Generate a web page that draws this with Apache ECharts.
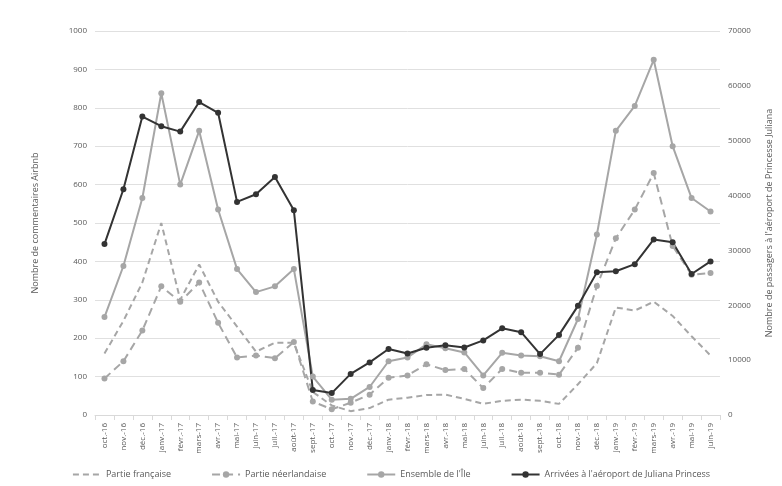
<!DOCTYPE html><html><head><meta charset="utf-8"><script src="https://cdn.jsdelivr.net/npm/echarts@6/dist/echarts.min.js"></script></head><body style="margin:0;background:#fff"><div id="c" style="width:782px;height:486px"></div><script>
const categories=['oct.-16','nov.-16','déc.-16','janv.-17','févr.-17','mars-17','avr.-17','mai-17','juin-17','juil.-17','août-17','sept.-17','oct.-17','nov.-17','déc.-17','janv.-18','févr.-18','mars-18','avr.-18','mai-18','juin-18','juil.-18','août-18','sept.-18','oct.-18','nov.-18','déc.-18','janv.-19','févr.-19','mars-19','avr.-19','mai-19','juin-19'];
const francaise=[160,245,345,500,300,392,295,230,165,188,188,60,25,10,18,40,45,52,53,42,29,37,40,37,29,80,135,280,272,295,258,205,155];
const neerlandaise=[95,140,220,335,295,345,240,150,155,148,190,35,15,32,53,97,103,132,117,120,70,120,110,110,105,175,336,460,535,630,440,365,370];
const ensemble=[255,388,565,838,600,740,535,380,320,335,380,100,40,42,73,140,150,184,174,163,103,162,155,153,140,250,470,740,805,925,700,565,530];
const arrivees=[31150,41160,54400,52640,51660,57050,55090,38850,40250,43400,37310,4550,3990,7490,9590,12040,11200,12250,12700,12300,13600,15800,15100,11100,14600,19900,26000,26200,27500,32000,31500,25700,28000];
const tc='#595959',f='Open Sans';
const ch=echarts.init(document.getElementById('c'));
ch.setOption({
 textStyle:{fontFamily:f},
 grid:{left:95,right:60,top:31,bottom:71},
 legend:{bottom:2,itemGap:40,itemWidth:28,itemHeight:8,textStyle:{color:tc,fontSize:9,fontFamily:f},
  data:[{name:'Partie française',itemStyle:{opacity:0}},'Partie néerlandaise',"Ensemble de l'Île","Arrivées à l'aéroport de Juliana Princess"]},
 xAxis:{type:'category',data:categories,boundaryGap:true,axisLine:{lineStyle:{color:'#d9d9d9'}},axisTick:{show:true,lineStyle:{color:'#d9d9d9'}},
  axisLabel:{rotate:90,color:tc,fontSize:8,interval:0}},
 yAxis:[{type:'value',min:0,max:1000,interval:100,name:'Nombre de commentaires Airbnb',nameLocation:'middle',nameGap:55,nameTextStyle:{color:tc,fontSize:9},
  axisLabel:{color:tc,fontSize:8,formatter:v=>String(v)},splitLine:{lineStyle:{color:'#e0e0e0'}},axisLine:{show:false}},
  {type:'value',min:0,max:70000,interval:10000,name:"Nombre de passagers à l'aéroport de Princesse Juliana",nameLocation:'middle',nameGap:45,nameRotate:90,nameTextStyle:{color:tc,fontSize:9},
  axisLabel:{color:tc,fontSize:8,formatter:v=>String(v)},splitLine:{show:false},axisLine:{show:false}}],
 series:[
  {name:'Partie française',type:'line',data:francaise,showSymbol:false,symbol:'none',lineStyle:{color:'#a6a6a6',width:2,type:[6,4]},itemStyle:{color:'#a6a6a6'}},
  {name:'Partie néerlandaise',type:'line',data:neerlandaise,symbol:'circle',symbolSize:6,lineStyle:{color:'#a6a6a6',width:2,type:[8,5]},itemStyle:{color:'#a6a6a6'}},
  {name:"Ensemble de l'Île",type:'line',data:ensemble,symbol:'circle',symbolSize:6,lineStyle:{color:'#a6a6a6',width:2},itemStyle:{color:'#a6a6a6'}},
  {name:"Arrivées à l'aéroport de Juliana Princess",type:'line',yAxisIndex:1,data:arrivees,symbol:'circle',symbolSize:6,lineStyle:{color:'#333',width:2},itemStyle:{color:'#333'}}
 ]});
</script></body></html>
